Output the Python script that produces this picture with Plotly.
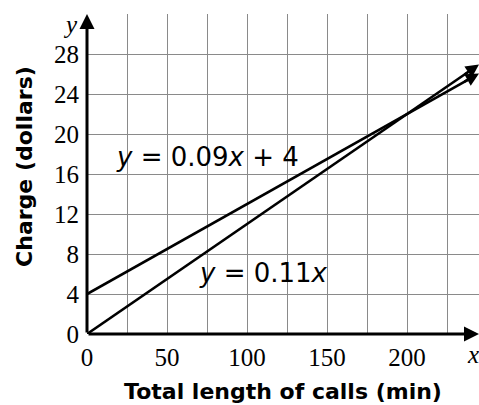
import plotly.graph_objects as go

# Data
x_line = [0, 243]
y_flat = [4, 25.87]      # y = 0.09x + 4
y_prop = [0, 26.73]      # y = 0.11x
arrow_tip_x = 245
arrow_tip_flat = 26.05
arrow_tip_prop = 26.95

x_ticks = [0, 25, 50, 75, 100, 125, 150, 175, 200, 225]
x_labels = ["0", "", "50", "", "100", "", "150", "", "200", ""]
y_ticks = [0, 4, 8, 12, 16, 20, 24, 28, 32]
y_labels = ["0", "4", "8", "12", "16", "20", "24", "28", ""]
x_max = 245
y_max = 32

fig = go.Figure()
fig.add_trace(go.Scatter(x=x_line, y=y_flat, mode="lines",
                         line=dict(color="black", width=2.6), showlegend=False,
                         hoverinfo="skip"))
fig.add_trace(go.Scatter(x=x_line, y=y_prop, mode="lines",
                         line=dict(color="black", width=2.6), showlegend=False,
                         hoverinfo="skip"))

ann = []
# arrowheads on data lines
for (xt, yt, xs, ys) in [(arrow_tip_x, arrow_tip_flat, x_line[1] - 8, y_flat[0] + 0.09 * (x_line[1] - 8)),
                         (arrow_tip_x, arrow_tip_prop, x_line[1] - 8, 0.11 * (x_line[1] - 8))]:
    ann.append(dict(x=xt, y=yt, ax=xs, ay=ys, xref="x", yref="y", axref="x", ayref="y",
                    showarrow=True, arrowhead=2, arrowsize=1.1, arrowwidth=2.4,
                    arrowcolor="black", text="", standoff=0))
# axes as arrows
ann.append(dict(x=0, y=y_max, ax=0, ay=0, xref="x", yref="y", axref="x", ayref="y",
                showarrow=True, arrowhead=2, arrowsize=1, arrowwidth=3,
                arrowcolor="black", text="", standoff=0))
ann.append(dict(x=x_max, y=0, ax=0, ay=0, xref="x", yref="y", axref="x", ayref="y",
                showarrow=True, arrowhead=2, arrowsize=1, arrowwidth=3,
                arrowcolor="black", text="", standoff=0))
# axis letters
ann.append(dict(x=-0.043, y=0.966, xref="paper", yref="paper", text="<i>y</i>", showarrow=False,
                xanchor="center", yanchor="middle",
                font=dict(family="Liberation Serif", size=25, color="black")))
ann.append(dict(x=0.985, y=-0.0625, xref="paper", yref="paper", text="<i>x</i>", showarrow=False,
                xanchor="center", yanchor="middle",
                font=dict(family="Liberation Serif", size=25, color="black")))
# equations
ann.append(dict(x=75, y=17.7, xref="x", yref="y",
                text="<i>y</i> = 0.09<i>x</i> + 4", showarrow=False,
                font=dict(family="DejaVu Sans", size=26, color="black")))
ann.append(dict(x=110, y=6.1, xref="x", yref="y",
                text="<i>y</i> = 0.11<i>x</i>", showarrow=False,
                font=dict(family="DejaVu Sans", size=26, color="black")))
# y-axis title
ann.append(dict(x=-0.161, y=0.525, xref="paper", yref="paper",
                text="<b>Charge (dollars)</b>", textangle=-90, showarrow=False,
                xanchor="center", yanchor="middle",
                font=dict(family="DejaVu Sans", size=22, color="black")))

fig.update_layout(
    width=479, height=405,
    margin=dict(l=87, r=0, t=14, b=71),
    paper_bgcolor="white", plot_bgcolor="white",
    annotations=ann,
    xaxis=dict(range=[0, x_max], tickvals=x_ticks, ticktext=x_labels,
               showgrid=True, gridcolor="#8a8a8a", gridwidth=1.3,
               zeroline=False, showline=False, ticks="", ticklabelstandoff=6,
               tickfont=dict(family="Liberation Serif", size=25, color="black"),
               title=dict(text="<b>Total length of calls (min)</b>", standoff=13,
                          font=dict(family="DejaVu Sans", size=22, color="black")),
               automargin=False, fixedrange=True),
    yaxis=dict(range=[0, y_max], tickvals=y_ticks, ticktext=y_labels,
               showgrid=True, gridcolor="#8a8a8a", gridwidth=1.3,
               zeroline=False, showline=False, ticks="", ticklabelstandoff=7,
               tickfont=dict(family="Liberation Serif", size=25, color="black"),
               automargin=False, fixedrange=True),
)

fig.write_html("out.html", config={"displayModeBar": False},
               post_script="document.body.style.margin='0';document.body.style.overflow='hidden';")
